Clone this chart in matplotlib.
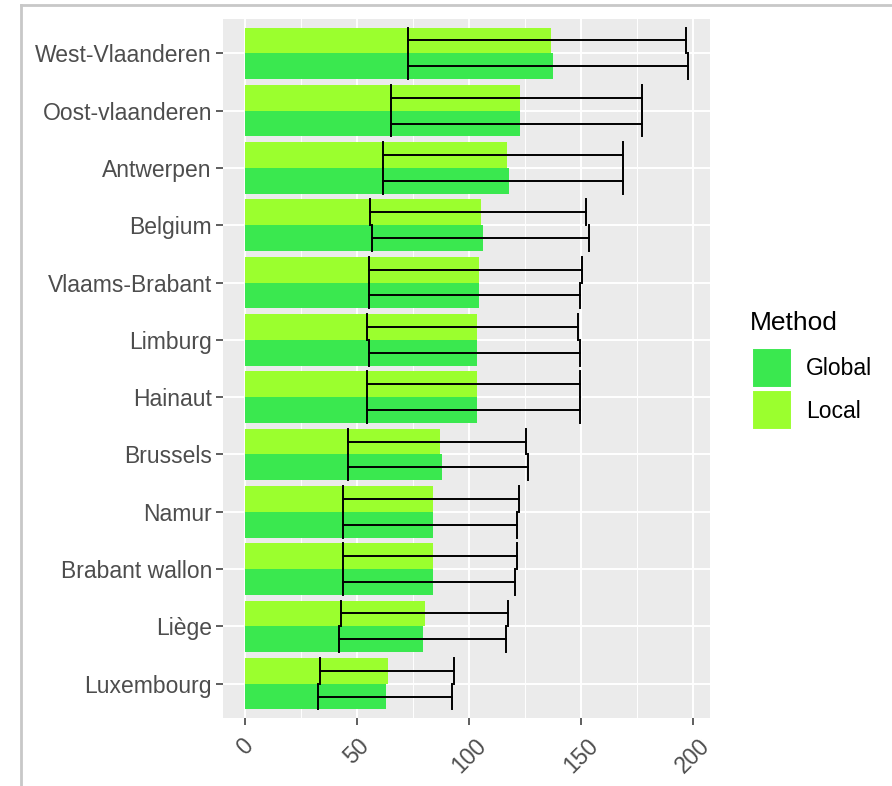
import numpy as np
import matplotlib.pyplot as plt
from matplotlib.patches import Rectangle
from matplotlib.lines import Line2D

plt.rcParams['font.family'] = ['Liberation Sans', 'DejaVu Sans']

# provinces, top to bottom
regions = ['West-Vlaanderen', 'Oost-vlaanderen', 'Antwerpen', 'Belgium',
           'Vlaams-Brabant', 'Limburg', 'Hainaut', 'Brussels', 'Namur',
           'Brabant wallon', 'Liège', 'Luxembourg']

global_mean = [137.7, 122.8, 117.8, 106.2, 104.5, 103.8, 103.8, 88.0, 83.9, 83.9, 79.5, 63.0]
global_low = [72.6, 65.3, 61.8, 56.9, 55.2, 55.2, 54.3, 46.1, 43.7, 43.7, 41.8, 32.7]
global_high = [197.9, 177.2, 168.9, 153.9, 149.6, 149.6, 149.6, 126.5, 121.5, 120.6, 116.4, 92.5]

local_mean = [136.9, 122.7, 116.9, 105.3, 104.5, 103.8, 103.8, 87.1, 83.9, 83.9, 80.4, 63.8]
local_low = [72.6, 65.3, 61.8, 55.9, 55.2, 54.3, 54.3, 46.1, 43.7, 43.7, 42.7, 33.6]
local_high = [197.0, 177.2, 168.9, 152.3, 150.6, 148.8, 149.6, 125.6, 122.4, 121.5, 117.3, 93.5]

xticks = [0, 50, 100, 150, 200]

col_global = '#3AE84F'
col_local = '#9BFF2E'

W, H = 892, 786
fig = plt.figure(figsize=(W / 100, H / 100), dpi=100)
fig.patch.set_facecolor('white')

# panel in pixel units
pl, pr, pt, pb = 223, 710, 19, 718
ax = fig.add_axes([pl / W, 1 - pb / H, (pr - pl) / W, (pb - pt) / H])
ax.set_facecolor('#EBEBEB')

n = len(regions)
y = np.arange(n)[::-1] + 1.0
bw = 0.45

ax.barh(y - bw / 2, global_mean, height=bw, color=col_global, zorder=2)
ax.barh(y + bw / 2, local_mean, height=bw, color=col_local, zorder=2)

def errbars(yc, lo, hi):
    for yy, a, b in zip(yc, lo, hi):
        ax.plot([a, b], [yy, yy], color='black', lw=1.4, zorder=3)
        ax.plot([a, a], [yy - bw / 2, yy + bw / 2], color='black', lw=1.4, zorder=3)
        ax.plot([b, b], [yy - bw / 2, yy + bw / 2], color='black', lw=1.4, zorder=3)

errbars(y - bw / 2, global_low, global_high)
errbars(y + bw / 2, local_low, local_high)

xmax = max(max(global_high), max(local_high))
pad = 0.05 * xmax
ax.set_xlim(-pad, xmax + pad)
ax.set_ylim(0.4, n + 0.6)

# grid
for xv in xticks:
    ax.axvline(xv, color='white', lw=1.4, zorder=1)
for xv in [25, 75, 125, 175]:
    ax.axvline(xv, color='white', lw=0.7, zorder=1)
for yv in y:
    ax.axhline(yv, color='white', lw=1.4, zorder=1)

ax.set_xticks(xticks)
ax.set_xticklabels([str(v) for v in xticks], rotation=45, ha='center', va='top')
ax.set_yticks(y)
ax.set_yticklabels(regions)
ax.tick_params(axis='both', colors='#333333', length=5, width=1.1, labelcolor='#4D4D4D',
               labelsize=16.5)
ax.tick_params(axis='y', pad=3)
ax.tick_params(axis='x', pad=7)
for s in ax.spines.values():
    s.set_visible(False)

# legend
fig.text(750 / W, 1 - 323 / H, 'Method', fontsize=19, color='black', va='center', ha='left')
for i, (lab, c) in enumerate([('Global', col_global), ('Local', col_local)]):
    top = 348 + i * 42
    fig.add_artist(Rectangle((752 / W, 1 - (top + 40) / H), 40 / W, 40 / H,
                             transform=fig.transFigure, facecolor=c,
                             edgecolor='white', lw=1.5))
    fig.text(806 / W, 1 - (top + 21) / H, lab, fontsize=16.5, color='black',
             va='center', ha='left')

# outer frame
fig.add_artist(Line2D([21 / W, 1], [1 - 5 / H, 1 - 5 / H], transform=fig.transFigure,
                      color='#C8C8C8', lw=2))
fig.add_artist(Line2D([21 / W, 21 / W], [0, 1 - 5 / H], transform=fig.transFigure,
                      color='#C8C8C8', lw=2))

fig.savefig('out.png', dpi=100)
